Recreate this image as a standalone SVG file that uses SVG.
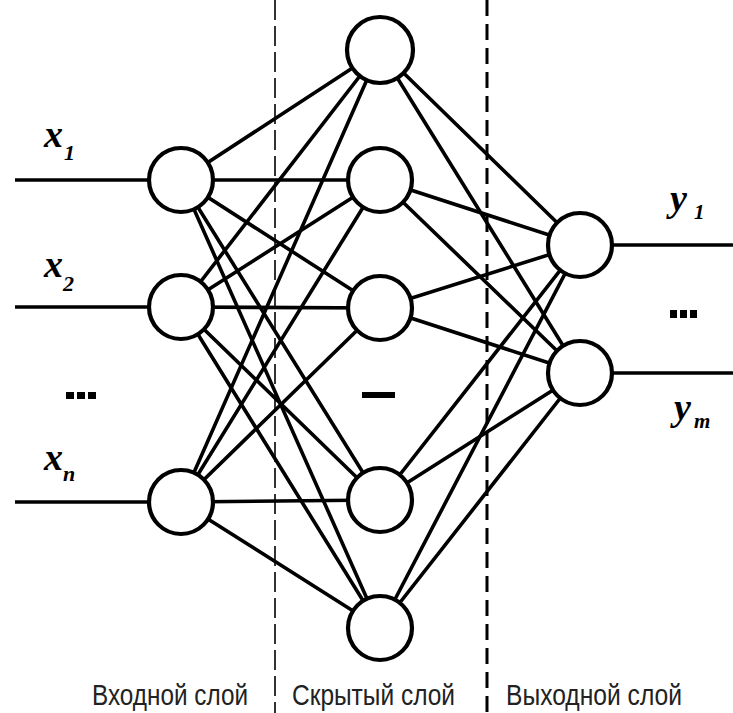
<svg xmlns="http://www.w3.org/2000/svg" width="733" height="713" viewBox="0 0 733 713">
  <style>
    .edge { stroke: #000; stroke-width: 3.6; fill: none; stroke-linecap: round; }
    .io { stroke: #000; stroke-width: 3.4; }
    .node { fill: #fff; stroke: #000; stroke-width: 4.2; }
    .var { font-family: "Liberation Serif", "Times New Roman", serif; font-style: italic; font-weight: bold; fill: #000; }
    .cap { font-family: "Liberation Sans", Arial, sans-serif; font-size: 30px; fill: #222; }
    .dots { fill: #000; }
  </style>

  <rect width="733" height="713" fill="#fff"/>

  <!-- layer separators -->
  <g id="separators">
    <line x1="275" y1="0" x2="275" y2="713" stroke="#000" stroke-width="1.6" stroke-dasharray="20 6"/>
    <line x1="487" y1="0" x2="487" y2="713" stroke="#000" stroke-width="3" stroke-dasharray="16 8"/>
  </g>

  <!-- connectors -->
  <g id="connectors">
    <!-- inputs and outputs -->
    <line class="io" x1="15" y1="180" x2="150" y2="180"/>
    <line class="io" x1="15" y1="307" x2="150" y2="307" stroke-width="4.2"/>
    <line class="io" x1="15" y1="502" x2="150" y2="502"/>
    <line class="io" x1="612" y1="245" x2="733" y2="245"/>
    <line class="io" x1="612" y1="373" x2="733" y2="373"/>

    <!-- input layer to hidden layer -->
    <line class="edge" x1="181" y1="180" x2="380" y2="50"/>
    <line class="edge" x1="181" y1="180" x2="380" y2="180" stroke-width="2.6"/>
    <line class="edge" x1="181" y1="180" x2="380" y2="308"/>
    <line class="edge" x1="181" y1="180" x2="380" y2="500"/>
    <line class="edge" x1="181" y1="180" x2="380" y2="628"/>

    <line class="edge" x1="181" y1="307" x2="380" y2="50"/>
    <line class="edge" x1="181" y1="307" x2="380" y2="180"/>
    <line class="edge" x1="181" y1="307" x2="380" y2="308"/>
    <line class="edge" x1="181" y1="307" x2="380" y2="500"/>
    <line class="edge" x1="181" y1="307" x2="380" y2="628"/>

    <line class="edge" x1="181" y1="502" x2="380" y2="50"/>
    <line class="edge" x1="181" y1="502" x2="380" y2="180"/>
    <line class="edge" x1="181" y1="502" x2="380" y2="308"/>
    <line class="edge" x1="181" y1="502" x2="380" y2="500" stroke-width="2.6"/>
    <line class="edge" x1="181" y1="502" x2="380" y2="628"/>

    <!-- hidden layer to output layer -->
    <line class="edge" x1="380" y1="50" x2="580" y2="245"/>
    <line class="edge" x1="380" y1="50" x2="580" y2="373"/>
    <line class="edge" x1="380" y1="180" x2="580" y2="245"/>
    <line class="edge" x1="380" y1="180" x2="580" y2="373"/>
    <line class="edge" x1="380" y1="308" x2="580" y2="245"/>
    <line class="edge" x1="380" y1="308" x2="580" y2="373"/>
    <line class="edge" x1="380" y1="500" x2="580" y2="245"/>
    <line class="edge" x1="380" y1="500" x2="580" y2="373"/>
    <line class="edge" x1="380" y1="628" x2="580" y2="245"/>
    <line class="edge" x1="380" y1="628" x2="580" y2="373"/>
  </g>

  <!-- input layer -->
  <g id="in1"><circle class="node" cx="181" cy="180" r="32"/></g>
  <g id="in2"><circle class="node" cx="181" cy="307" r="32"/></g>
  <g id="inN"><circle class="node" cx="181" cy="502" r="32"/></g>

  <!-- hidden layer -->
  <g id="h1"><circle class="node" cx="380" cy="50" r="33"/></g>
  <g id="h2"><circle class="node" cx="380" cy="180" r="32"/></g>
  <g id="h3"><circle class="node" cx="380" cy="308" r="32"/></g>
  <g id="h4"><circle class="node" cx="380" cy="500" r="32"/></g>
  <g id="h5"><circle class="node" cx="380" cy="628" r="32"/></g>

  <!-- output layer -->
  <g id="out1"><circle class="node" cx="580" cy="245" r="32"/></g>
  <g id="outM"><circle class="node" cx="580" cy="373" r="32"/></g>

  <!-- variable labels -->
  <g id="labels">
    <text class="var" x="44" y="147" font-size="38">x</text>
    <text class="var" x="64" y="160" font-size="22">1</text>
    <text class="var" x="44" y="277" font-size="38">x</text>
    <text class="var" x="63" y="291" font-size="22">2</text>
    <text class="var" x="44" y="470" font-size="38">x</text>
    <text class="var" x="63" y="481" font-size="22">n</text>

    <text class="var" x="670" y="211" font-size="38">y</text>
    <text class="var" x="694" y="219" font-size="21">1</text>
    <text class="var" x="674" y="420" font-size="38">y</text>
    <text class="var" x="694" y="428" font-size="21">m</text>
  </g>

  <!-- ellipses -->
  <g id="ellipses" class="dots">
    <rect x="66" y="392" width="8" height="7"/>
    <rect x="77" y="392" width="8" height="7"/>
    <rect x="88" y="392" width="8" height="7"/>
    <rect x="362" y="392" width="33" height="6"/>
    <rect x="670" y="310" width="7" height="8"/>
    <rect x="680" y="310" width="7" height="8"/>
    <rect x="690" y="310" width="7" height="8"/>
  </g>

  <!-- layer captions -->
  <g id="captions">
    <text class="cap" x="92" y="705" textLength="156" lengthAdjust="spacingAndGlyphs">Входной слой</text>
    <text class="cap" x="292" y="705" textLength="163" lengthAdjust="spacingAndGlyphs">Скрытый слой</text>
    <text class="cap" x="506" y="705" textLength="176" lengthAdjust="spacingAndGlyphs">Выходной слой</text>
  </g>
</svg>
